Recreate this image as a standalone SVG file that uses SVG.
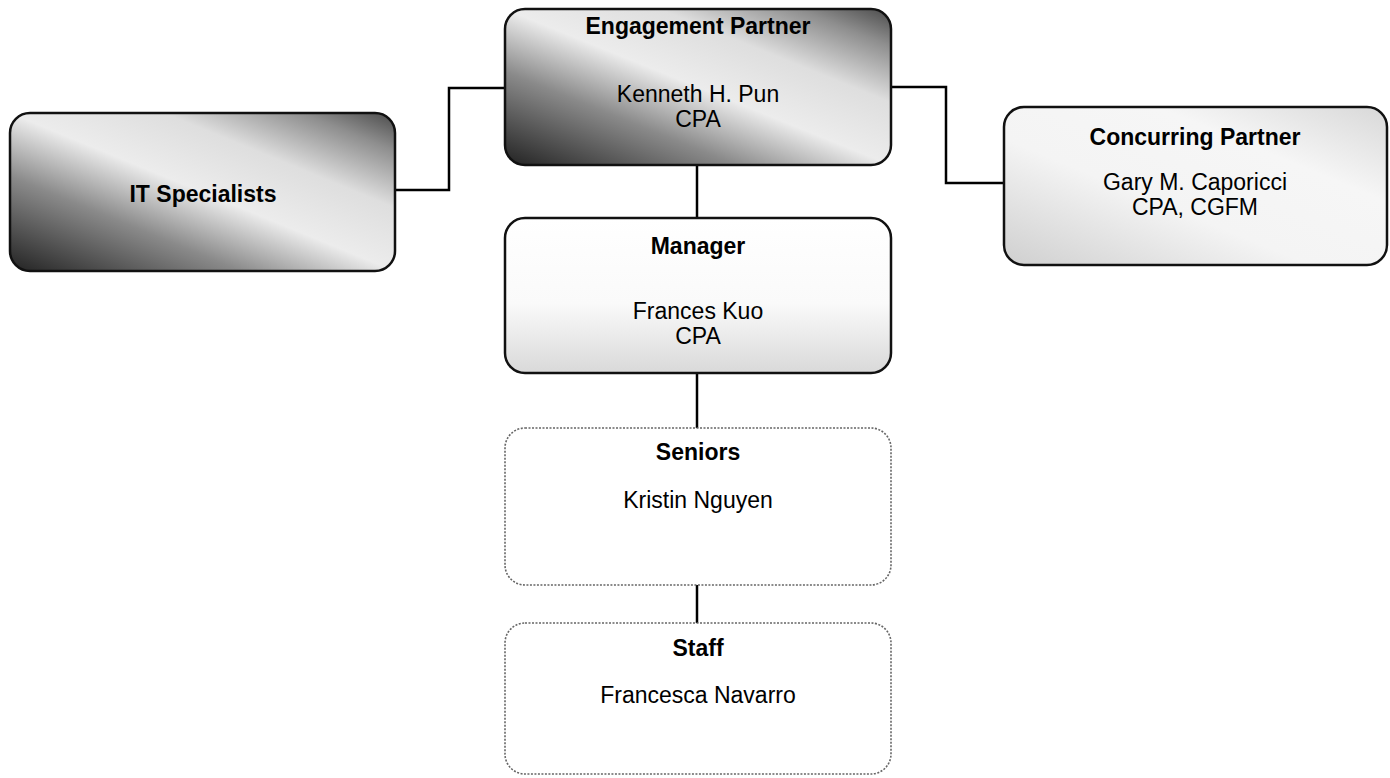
<svg xmlns="http://www.w3.org/2000/svg" width="1390" height="778" viewBox="0 0 1390 778">
<defs>
<linearGradient id="gDark" x1="0" y1="1" x2="1" y2="0">
<stop offset="0" stop-color="#222"/>
<stop offset="0.3" stop-color="#8a8a8a"/>
<stop offset="0.5" stop-color="#ececec"/>
<stop offset="0.7" stop-color="#dedede"/>
<stop offset="0.88" stop-color="#8e8e8e"/>
<stop offset="1" stop-color="#4a4a4a"/>
</linearGradient>
<linearGradient id="gMid" x1="0" y1="1" x2="1" y2="0">
<stop offset="0" stop-color="#cfcfcf"/>
<stop offset="0.4" stop-color="#f4f4f4"/>
<stop offset="0.7" stop-color="#f6f6f6"/>
<stop offset="1" stop-color="#d8d8d8"/>
</linearGradient>
<linearGradient id="gMgr" x1="0" y1="0" x2="0" y2="1">
<stop offset="0" stop-color="#ffffff"/>
<stop offset="0.55" stop-color="#fafafa"/>
<stop offset="1" stop-color="#d9d9d9"/>
</linearGradient>
<style>
.box{stroke:#111;stroke-width:2.5}
.light{fill:#fff;stroke:#666;stroke-width:1.6;stroke-dasharray:2 1.5}
.t{font-family:"Liberation Sans",Arial,sans-serif;font-size:23px;fill:#000;text-anchor:middle}
.b{font-weight:bold}
.con{fill:none;stroke:#000;stroke-width:2.5}
</style>
</defs>
<g id="connectors">
<path class="con" d="M395,190 H449 V88 H505"/>
<path class="con" d="M891,87 H946 V183 H1004"/>
<path class="con" d="M697,165 V218"/>
<path class="con" d="M697,373 V428"/>
<path class="con" d="M697,585 V623"/>
</g>
<g id="engagement-partner">
<rect class="box" x="505" y="9" width="386" height="156" rx="20" fill="url(#gDark)"/>
<text class="t b" x="698" y="34">Engagement Partner</text>
<text class="t" x="698" y="102">Kenneth H. Pun</text>
<text class="t" x="698" y="127">CPA</text>
</g>
<g id="it-specialists">
<rect class="box" x="10" y="113" width="385" height="158" rx="20" fill="url(#gDark)"/>
<text class="t b" x="203" y="202">IT Specialists</text>
</g>
<g id="concurring-partner">
<rect class="box" x="1004" y="107" width="383" height="158" rx="20" fill="url(#gMid)" stroke-width="2"/>
<text class="t b" x="1195" y="145">Concurring Partner</text>
<text class="t" x="1195" y="190">Gary M. Caporicci</text>
<text class="t" x="1195" y="215">CPA, CGFM</text>
</g>
<g id="manager">
<rect class="box" x="505" y="218" width="386" height="155" rx="20" fill="url(#gMgr)"/>
<text class="t b" x="698" y="254">Manager</text>
<text class="t" x="698" y="319">Frances Kuo</text>
<text class="t" x="698" y="344">CPA</text>
</g>
<g id="seniors">
<rect class="light" x="505" y="428" width="386" height="157" rx="20"/>
<text class="t b" x="698" y="460">Seniors</text>
<text class="t" x="698" y="508">Kristin Nguyen</text>
</g>
<g id="staff">
<rect class="light" x="505" y="623" width="386" height="151" rx="20"/>
<text class="t b" x="698" y="656">Staff</text>
<text class="t" x="698" y="703">Francesca Navarro</text>
</g>
</svg>
